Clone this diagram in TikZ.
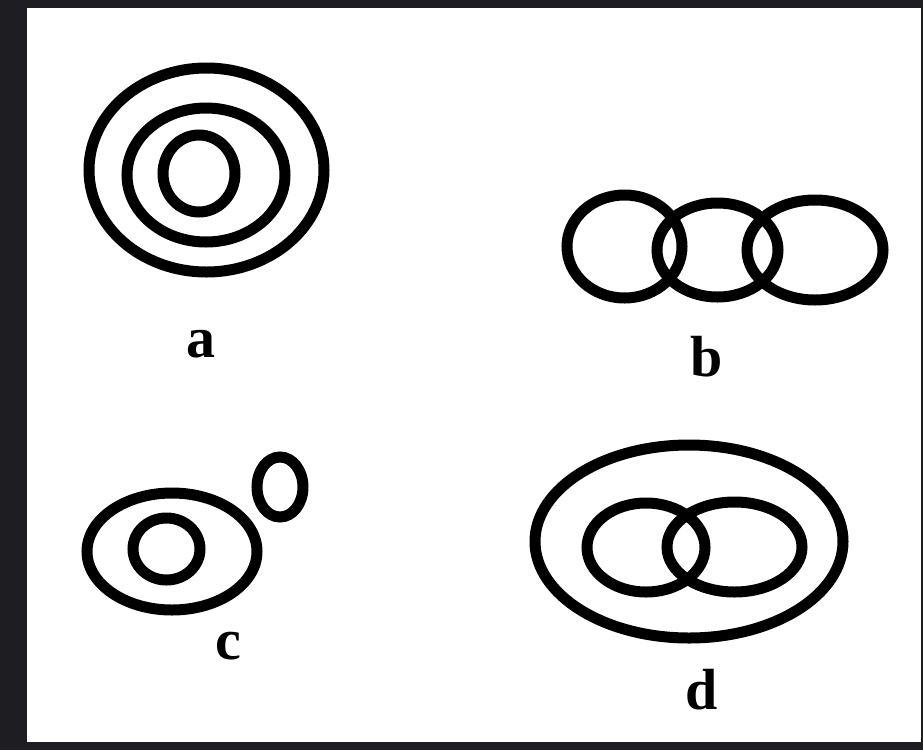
\documentclass[tikz,border=0pt]{standalone}
\usepackage{fontspec}
\setmainfont{Liberation Serif}
\definecolor{frame}{HTML}{1E1E22}
\begin{document}
\begin{tikzpicture}[x=1pt,y=-1pt,
    ring/.style={draw=black,line width=11pt},
    tag/.style={font=\fontsize{58}{58}\selectfont\bfseries,inner sep=0pt}]
\fill[frame] (0,0) rectangle (923,750);
\fill[white] (27,8) rectangle (921,742);
\useasboundingbox (0,0) rectangle (923,750);
% a
\draw[ring] (206.5,170) ellipse [x radius=117.5,y radius=102];
\draw[ring] (206,175) ellipse [x radius=79,y radius=67];
\draw[ring] (199,173.5) ellipse [x radius=36,y radius=38.5];
\node[tag] (la) at (201,344) {a};
% b
\foreach \cx/\cy/\rx/\ry in {624.5/246.5/57.5/51.5, 717.5/250/60.5/47, 815/250/68/50}
    \draw[ring] (\cx,\cy) ellipse [x radius=\rx,y radius=\ry];
\node[tag] (lb) at (707,357) {b};
% c
\draw[ring] (172,551.5) ellipse [x radius=85,y radius=58.5];
\draw[ring] (166.5,549) ellipse [x radius=33.5,y radius=31];
\draw[ring] (280,487) ellipse [x radius=23,y radius=30];
\node[tag] (lc) at (228,646) {c};
% d
\draw[ring] (689,541.5) ellipse [x radius=154,y radius=96.5];
\draw[ring] (646,547.5) ellipse [x radius=59,y radius=44.5];
\draw[ring] (734.5,547) ellipse [x radius=67.5,y radius=45];
\node[tag] (ld) at (702,690) {d};
\end{tikzpicture}
\end{document}
